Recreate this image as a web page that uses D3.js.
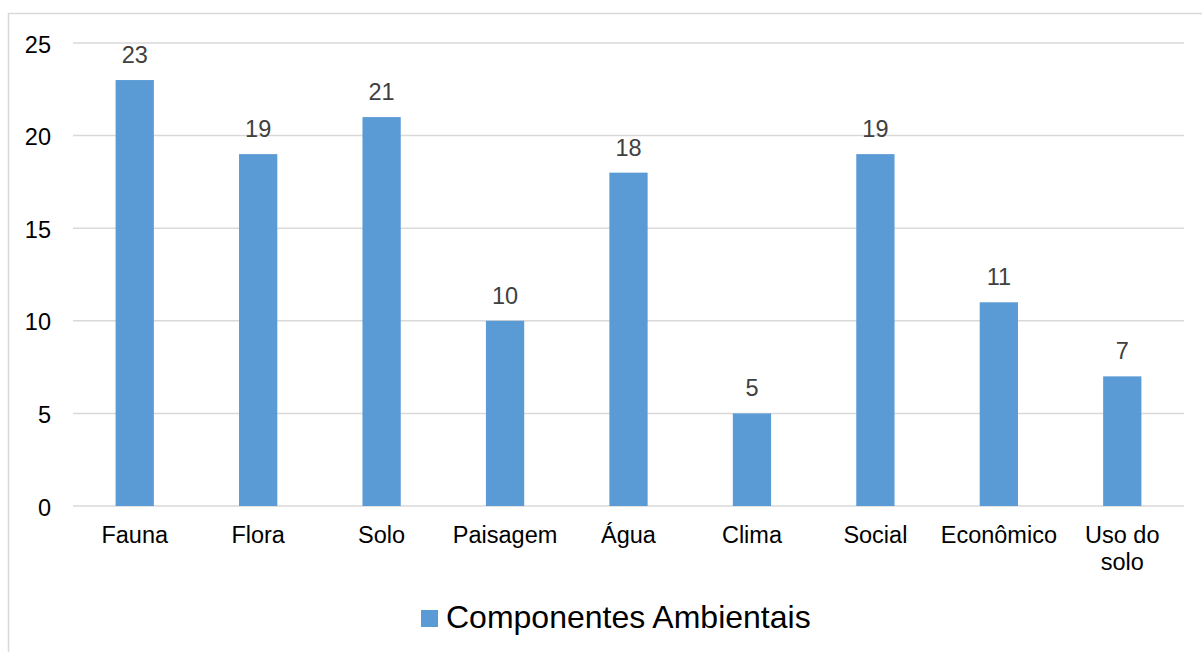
<!DOCTYPE html>
<html><head><meta charset="utf-8">
<script src="https://cdn.jsdelivr.net/npm/d3@7"></script>
<style>body{margin:0;background:#fff;}svg{display:block;font-family:"Liberation Sans",Arial,sans-serif;}</style>
</head><body><svg id="c" width="1202" height="652"></svg>
<script>
const categories = ["Fauna","Flora","Solo","Paisagem","Água","Clima","Social","Econômico","Uso do solo"];
const values = [23,19,21,10,18,5,19,11,7];
const yTicks = [0,5,10,15,20,25];
const seriesName = "Componentes Ambientais";

const svg = d3.select("#c");
svg.append("rect").attr("x",8.5).attr("y",13.5).attr("width",1210).attr("height",660)
  .attr("fill","#fff").attr("stroke","#d9d9d9").attr("stroke-width",1.5);

const m = {left:73, right:1184, top:43, bottom:506};
const x = d3.scaleBand().domain(categories).range([m.left,m.right]).paddingInner(0.69).paddingOuter(0.345);
const y = d3.scaleLinear().domain([0,25]).range([m.bottom,m.top]);

// gridlines
svg.append("g").selectAll("line").data(yTicks).join("line")
  .attr("x1",m.left).attr("x2",m.right).attr("y1",d=>y(d)).attr("y2",d=>y(d))
  .attr("stroke","#d9d9d9").attr("stroke-width",1.5);

// y axis labels
const yAxis = d3.axisLeft(y).tickValues(yTicks).tickSize(0).tickPadding(0);
const ya = svg.append("g").attr("transform",`translate(51,0)`).call(yAxis);
ya.select(".domain").remove();
ya.selectAll("text").attr("font-size",23.5).attr("fill","#000").attr("dy",9)
  .attr("font-family","Liberation Sans, Arial, sans-serif");

// bars
svg.append("g").selectAll("rect").data(values).join("rect")
  .attr("x",(d,i)=>x(categories[i])).attr("width",x.bandwidth())
  .attr("y",d=>y(d)).attr("height",d=>y(0)-y(d)).attr("fill","#5b9bd5");

// data labels
svg.append("g").selectAll("text").data(values).join("text")
  .attr("x",(d,i)=>x(categories[i])+x.bandwidth()/2).attr("y",d=>y(d)-17)
  .attr("text-anchor","middle").attr("font-size",23.5).attr("fill","#404040").text(d=>d);

// x labels
const xa = svg.append("g");
categories.forEach(c=>{
  const words = c==="Uso do solo" ? ["Uso do","solo"] : [c];
  const t = xa.append("text").attr("x",x(c)+x.bandwidth()/2).attr("y",543)
    .attr("text-anchor","middle").attr("font-size",23.5).attr("fill","#000");
  words.forEach((w,i)=>t.append("tspan").attr("x",x(c)+x.bandwidth()/2).attr("dy",i?27:0).text(w));
});

// legend
svg.append("rect").attr("x",421).attr("y",610).attr("width",17).attr("height",17).attr("fill","#5b9bd5");
svg.append("text").attr("x",446).attr("y",628).attr("font-size",32).attr("fill","#000").text(seriesName);
</script></body></html>
